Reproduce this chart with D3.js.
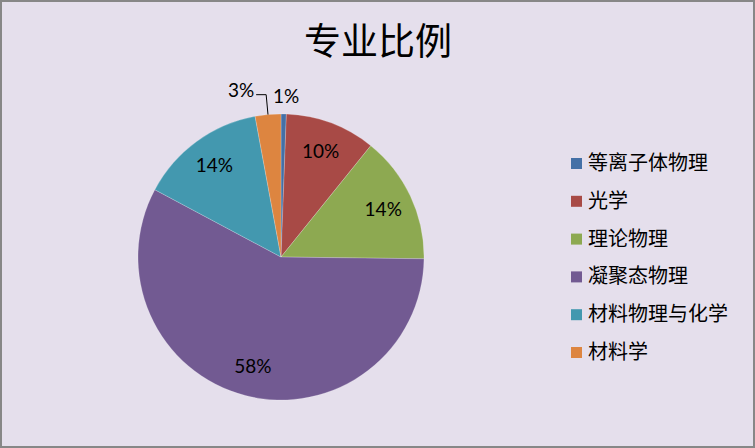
<!DOCTYPE html>
<html lang="zh">

<head>
    <meta charset="UTF-8">
    <title>专业比例</title>
</head>

<body style="margin:0">
    <script src='https://d3js.org/d3.v7.min.js'></script>
    <style>
        svg text.pct {
            font: 19px Lato, "Liberation Sans", sans-serif;
            fill: black;
        }

        svg text.cn {
            font-family: "Noto Sans CJK SC", sans-serif;
            fill: black;
        }
    </style>
    <script>
        // data (share in percent)
        var majors = ["等离子体物理", "光学", "理论物理", "凝聚态物理", "材料物理与化学", "材料学"];
        var shares = [0.6, 10.2, 14.4, 57.6, 14.3, 2.9];
        var colors = ["#4470A6", "#A84A46", "#8DA951", "#725A92", "#4398AF", "#DD8540"];

        var width = 755, height = 448;
        var cx = 281, cy = 257, R = 143;

        var svg = d3.select("body")
            .append("svg")
            .attr("width", width)
            .attr("height", height);

        // background + frame
        svg.append("rect")
            .attr("x", 1).attr("y", 1)
            .attr("width", width - 2).attr("height", height - 2)
            .attr("fill", "#E5DFEC")
            .attr("stroke", "#878787")
            .attr("stroke-width", 2);

        svg.append("text")
            .attr("class", "cn")
            .attr("x", 378).attr("y", 55)
            .attr("text-anchor", "middle")
            .style("font-size", "37px")
            .text("专业比例");

        var total = d3.sum(shares);
        var data = majors.map(function (m, i) { return { name: m, value: shares[i], color: colors[i] }; });

        var pie = d3.pie().sort(null).value(function (d) { return d.value; });
        var arcs = pie(data);
        var arc = d3.arc().innerRadius(0).outerRadius(R);
        var labelArc = d3.arc().innerRadius(113).outerRadius(113);

        var g = svg.append("g").attr("transform", "translate(" + cx + "," + cy + ")");

        g.selectAll("path")
            .data(arcs)
            .enter()
            .append("path")
            .attr("d", arc)
            .attr("fill", function (d) { return d.data.color; })
            .attr("stroke", "#ffffff")
            .attr("stroke-opacity", 0.35)
            .attr("stroke-width", 0.6);

        function pct(d) { return Math.round(d.data.value / total * 100) + "%"; }
        function midAngle(d) { return (d.startAngle + d.endAngle) / 2; }
        function polar(a, r) { return [Math.sin(a) * r, -Math.cos(a) * r]; }

        // labels inside bigger slices
        g.selectAll("text.inner")
            .data(arcs.filter(function (d) { return d.data.value >= 5; }))
            .enter()
            .append("text")
            .attr("class", "pct inner")
            .attr("transform", function (d) { return "translate(" + labelArc.centroid(d) + ")"; })
            .attr("text-anchor", "middle")
            .attr("dy", "0.35em")
            .text(pct);

        // small slices: labels outside
        var small = arcs.filter(function (d) { return d.data.value < 5; });
        small.forEach(function (d, i) {
            var a = midAngle(d);
            if (i == 0) {
                var p = polar(a, 161);
                g.append("text")
                    .attr("class", "pct")
                    .attr("x", p[0] + 2).attr("y", p[1])
                    .attr("text-anchor", "middle")
                    .attr("dy", "0.35em")
                    .text(pct(d));
            } else {
                // leader line for the crowded one
                var p0 = polar(a, R), p1 = polar(a, 163);
                var p2 = [p1[0] - 10, p1[1]];
                g.append("polyline")
                    .attr("points", [p0, p1, p2].map(function (p) { return p.join(","); }).join(" "))
                    .attr("fill", "none")
                    .attr("stroke", "black")
                    .attr("stroke-width", 1);
                g.append("text")
                    .attr("class", "pct")
                    .attr("x", p2[0] - 2).attr("y", p2[1] - 4)
                    .attr("text-anchor", "end")
                    .attr("dy", "0.35em")
                    .text(pct(d));
            }
        });

        // legend
        var legend = svg.selectAll("g.legend")
            .data(data)
            .enter()
            .append("g")
            .attr("class", "legend")
            .attr("transform", function (d, i) { return "translate(571," + (163 + i * 37.8) + ")"; });
        legend.append("rect")
            .attr("x", 0).attr("y", -5)
            .attr("width", 11).attr("height", 11)
            .attr("fill", function (d) { return d.color; });
        legend.append("text")
            .attr("class", "cn")
            .attr("x", 17)
            .attr("dy", "0.35em")
            .style("font-size", "20px")
            .text(function (d) { return d.name; });
    </script>
</body>

</html>
